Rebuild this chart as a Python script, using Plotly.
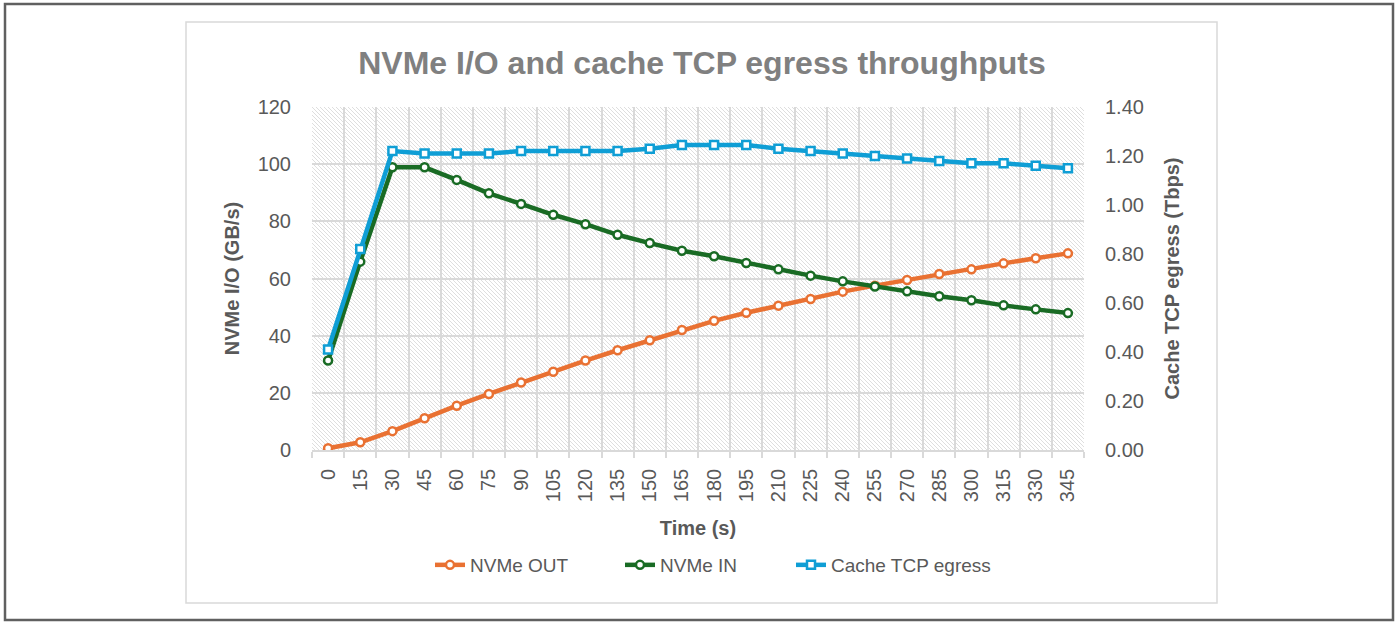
import base64
import plotly.graph_objects as go

# ---------------- data ----------------
time_s = [0, 15, 30, 45, 60, 75, 90, 105, 120, 135, 150, 165,
          180, 195, 210, 225, 240, 255, 270, 285, 300, 315, 330, 345]
time_labels = [str(t) for t in time_s]

nvme_out = [0.6, 2.7, 6.6, 11.1, 15.5, 19.6, 23.6, 27.4, 31.3, 34.9, 38.4, 42.0,
            45.2, 48.0, 50.5, 52.8, 55.4, 57.5, 59.5, 61.6, 63.2, 65.3, 67.1, 68.8]
nvme_in = [31.3, 65.9, 98.9, 98.9, 94.5, 89.8, 86.1, 82.3, 79.0, 75.3, 72.4, 69.7,
           67.8, 65.4, 63.2, 61.0, 59.0, 57.2, 55.5, 53.8, 52.4, 50.6, 49.2, 47.9]
cache_tcp = [0.41, 0.82, 1.22, 1.21, 1.21, 1.21, 1.22, 1.22, 1.22, 1.22, 1.23, 1.245,
             1.245, 1.245, 1.23, 1.22, 1.21, 1.20, 1.19, 1.18, 1.17, 1.17, 1.16, 1.15]

y_left_ticks = [0, 20, 40, 60, 80, 100, 120]
y_right_ticks = [0.0, 0.2, 0.4, 0.6, 0.8, 1.0, 1.2, 1.4]

# ---------------- styling ----------------
W, H = 1398, 623
ML, MR, MT, MB = 312, 314, 107, 173
PW, PH = W - ML - MR, H - MT - MB

C_OUT = "#E97132"
C_IN = "#196B24"
C_TCP = "#0F9ED5"
GRID = "#d9d9d9"
TXT = "#595959"
FONT = "Liberation Sans, Arial, sans-serif"


def px_x(px):
    return (px - ML) / PW


def px_y(py):
    return (H - MB - py) / PH


# light downward-diagonal hatch (pixel pattern, like the spreadsheet fill)
HC = "#dedede"
hatch_svg = (
    f"<svg xmlns='http://www.w3.org/2000/svg' width='{PW}' height='{PH}' shape-rendering='crispEdges'>"
    "<defs><pattern id='h' width='4' height='4' patternUnits='userSpaceOnUse'>"
    "<rect width='4' height='4' fill='white'/>"
    f"<rect x='0' y='0' width='1' height='1' fill='{HC}'/>"
    f"<rect x='1' y='1' width='1' height='1' fill='{HC}'/>"
    f"<rect x='2' y='2' width='1' height='1' fill='{HC}'/>"
    f"<rect x='3' y='3' width='1' height='1' fill='{HC}'/>"
    "</pattern></defs>"
    f"<rect width='{PW}' height='{PH}' fill='url(#h)'/></svg>"
)
hatch_uri = "data:image/svg+xml;base64," + base64.b64encode(hatch_svg.encode()).decode()

fig = go.Figure()

fig.add_trace(go.Scatter(
    x=time_labels, y=nvme_out, name="NVMe OUT", mode="lines+markers",
    legend="legend", showlegend=True,
    line=dict(color=C_OUT, width=4.5),
    marker=dict(symbol="circle", size=8, color="white", line=dict(color=C_OUT, width=2.5)),
))
fig.add_trace(go.Scatter(
    x=time_labels, y=nvme_in, name="NVMe IN", mode="lines+markers",
    legend="legend2", showlegend=True,
    line=dict(color=C_IN, width=4.5),
    marker=dict(symbol="circle", size=8, color="white", line=dict(color=C_IN, width=2.5)),
))
fig.add_trace(go.Scatter(
    x=time_labels, y=cache_tcp, name="Cache TCP egress", mode="lines+markers",
    yaxis="y2", legend="legend3", showlegend=True,
    line=dict(color=C_TCP, width=4.5),
    marker=dict(symbol="square", size=8, color="white", line=dict(color=C_TCP, width=2.5)),
))


def legend_at(text_left_px):
    return dict(
        orientation="h", x=px_x(text_left_px - 40), xanchor="left",
        y=px_y(565), yanchor="middle",
        font=dict(size=19, color=TXT),
        bgcolor="rgba(0,0,0,0)", borderwidth=0, visible=True,
    )


fig.update_layout(
    width=W, height=H,
    showlegend=True,
    margin=dict(l=ML, r=MR, t=MT, b=MB),
    paper_bgcolor="white",
    plot_bgcolor="rgba(0,0,0,0)",
    font=dict(family=FONT, color=TXT, size=20),
    title=dict(
        text="<b>NVMe I/O and cache TCP egress throughputs</b>",
        font=dict(family=FONT, size=32, color="#808080"),
        x=702 / W, xref="container", xanchor="center",
        y=1 - 63 / H, yref="container", yanchor="middle",
    ),
    xaxis=dict(
        type="category",
        range=[-0.5, len(time_labels) - 0.5],
        tickson="boundaries",
        ticks="outside", ticklen=6, tickcolor=GRID, tickwidth=1.5,
        showgrid=True, gridcolor=GRID, gridwidth=1.5,
        showline=True, linecolor=GRID, linewidth=1.5,
        tickangle=-90,
        tickfont=dict(size=20, color=TXT),
        ticklabelstandoff=9,
        title=dict(text="<b>Time (s)</b>", font=dict(size=20, color=TXT), standoff=20),
    ),
    yaxis=dict(
        range=[0, 120], tickvals=y_left_ticks,
        showgrid=True, gridcolor=GRID, gridwidth=1.5,
        zeroline=False, showline=False,
        tickfont=dict(size=20, color=TXT),
        ticklabelstandoff=20,
        title=dict(text="<b>NVMe I/O (GB/s)</b>", font=dict(size=20, color=TXT), standoff=12),
    ),
    yaxis2=dict(
        overlaying="y", side="right",
        range=[0, 1.4], tickvals=y_right_ticks, tickformat=".2f",
        showgrid=False, zeroline=False, showline=False,
        tickfont=dict(size=20, color=TXT),
        ticklabelstandoff=20,
        title=dict(text="<b>Cache TCP egress (Tbps)</b>", font=dict(size=20, color=TXT), standoff=22),
    ),
    legend=legend_at(470),
    legend2=legend_at(660),
    legend3=legend_at(831),
    images=[dict(
        source=hatch_uri, xref="paper", yref="paper",
        x=0, y=1, sizex=1, sizey=1, sizing="stretch",
        xanchor="left", yanchor="top", layer="below",
    )],
    shapes=[
        dict(type="rect", xref="paper", yref="paper",
             x0=px_x(5), x1=px_x(1393), y0=px_y(620), y1=px_y(4),
             line=dict(color="#606060", width=2.5), fillcolor="rgba(0,0,0,0)", layer="below"),
        dict(type="rect", xref="paper", yref="paper",
             x0=px_x(186), x1=px_x(1217), y0=px_y(603), y1=px_y(22),
             line=dict(color=GRID, width=1.5), fillcolor="rgba(0,0,0,0)", layer="below"),
    ],
)

fig.write_html("out.html", config={"displayModeBar": False},
               post_script="document.body.style.margin='0px';")
